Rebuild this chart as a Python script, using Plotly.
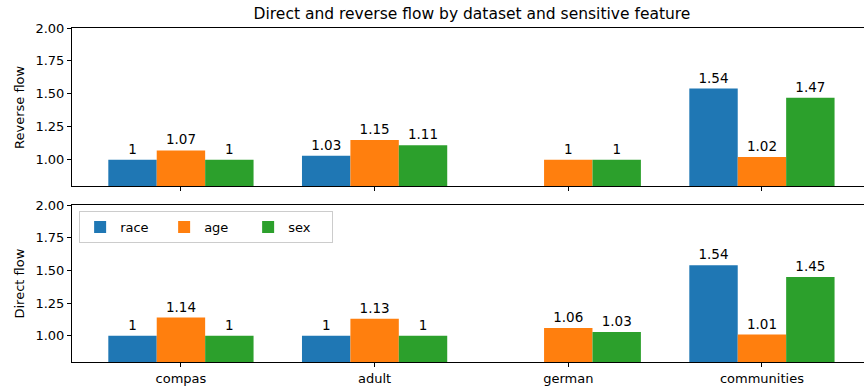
import plotly.graph_objects as go
from plotly.subplots import make_subplots

datasets = ["compas", "adult", "german", "communities"]
features = ["race", "age", "sex"]
colors = ["#1f77b4", "#ff7f0e", "#2ca02c"]

reverse_race = [1.0, 1.03, None, 1.54]
reverse_age = [1.07, 1.15, 1.0, 1.02]
reverse_sex = [1.0, 1.11, 1.0, 1.47]

direct_race = [1.0, 1.0, None, 1.54]
direct_age = [1.14, 1.13, 1.06, 1.01]
direct_sex = [1.0, 1.0, 1.03, 1.45]

yticks = [1.0, 1.25, 1.5, 1.75, 2.0]
title = "Direct and reverse flow by dataset and sensitive feature"
FONT = "DejaVu Sans"

fig = make_subplots(rows=2, cols=1, shared_xaxes=True, vertical_spacing=0.057)

def fmt(v):
    return "" if v is None else f"{v:g}"

top = [reverse_race, reverse_age, reverse_sex]
bottom = [direct_race, direct_age, direct_sex]
xs = list(range(len(datasets)))
for row, series in ((1, top), (2, bottom)):
    for name, vals, c in zip(features, series, colors):
        fig.add_trace(go.Bar(
            x=xs, y=vals, name=name, marker=dict(color=c, line=dict(width=0)),
            text=[fmt(v) for v in vals], textposition="outside",
            textfont=dict(size=13.5, color="black", family=FONT),
            cliponaxis=False, showlegend=(row == 2), width=0.25,
        ), row=row, col=1)

fig.update_layout(
    width=864, height=387,
    margin=dict(l=72, r=0, t=28, b=25, autoexpand=False),
    paper_bgcolor="white", plot_bgcolor="white",
    barmode="group", bargap=0.25, bargroupgap=0,
    font=dict(family=FONT, size=13, color="black"),
    title=dict(text=title, x=(472) / 864, xanchor="center", y=1 - 14 / 387, yanchor="middle",
               font=dict(size=15.5, family=FONT, color="black")),
    uniformtext=dict(mode=False),
    legend=dict(orientation="h", x=0.009, xanchor="left", y=0.452, yanchor="top",
                bordercolor="#cccccc", borderwidth=1, bgcolor="rgba(255,255,255,0.8)",
                entrywidth=39, entrywidthmode="pixels", tracegroupgap=0,
                font=dict(size=13, family=FONT)),
)

xr = [-0.5625, 3.527]
for r in (1, 2):
    fig.update_xaxes(range=xr, tickvals=xs, ticktext=datasets, showline=True, linecolor="black",
                     linewidth=1, mirror=True, ticks="outside", ticklen=4, tickcolor="black",
                     showgrid=False, zeroline=False, row=r, col=1)
    fig.update_yaxes(range=[0.8, 2.0], tickvals=yticks, tickformat=".2f", showline=True,
                     linecolor="black", linewidth=1, ticks="outside", ticklen=4, tickcolor="black",
                     showgrid=False, zeroline=False, row=r, col=1)
fig.update_xaxes(showticklabels=False, row=1, col=1)
fig.update_xaxes(showticklabels=True, row=2, col=1)

fig.update_layout(yaxis=dict(domain=[0.527, 1.0]), yaxis2=dict(domain=[0.0, 0.470]))

for label, ymid in (("Reverse flow", (0.527 + 1.0) / 2), ("Direct flow", 0.470 / 2)):
    fig.add_annotation(text=label, xref="paper", yref="paper", x=0, y=ymid, xanchor="center",
                       yanchor="middle", xshift=-52, textangle=-90, showarrow=False,
                       font=dict(size=13, family=FONT, color="black"))

fig.write_html("out.html")
